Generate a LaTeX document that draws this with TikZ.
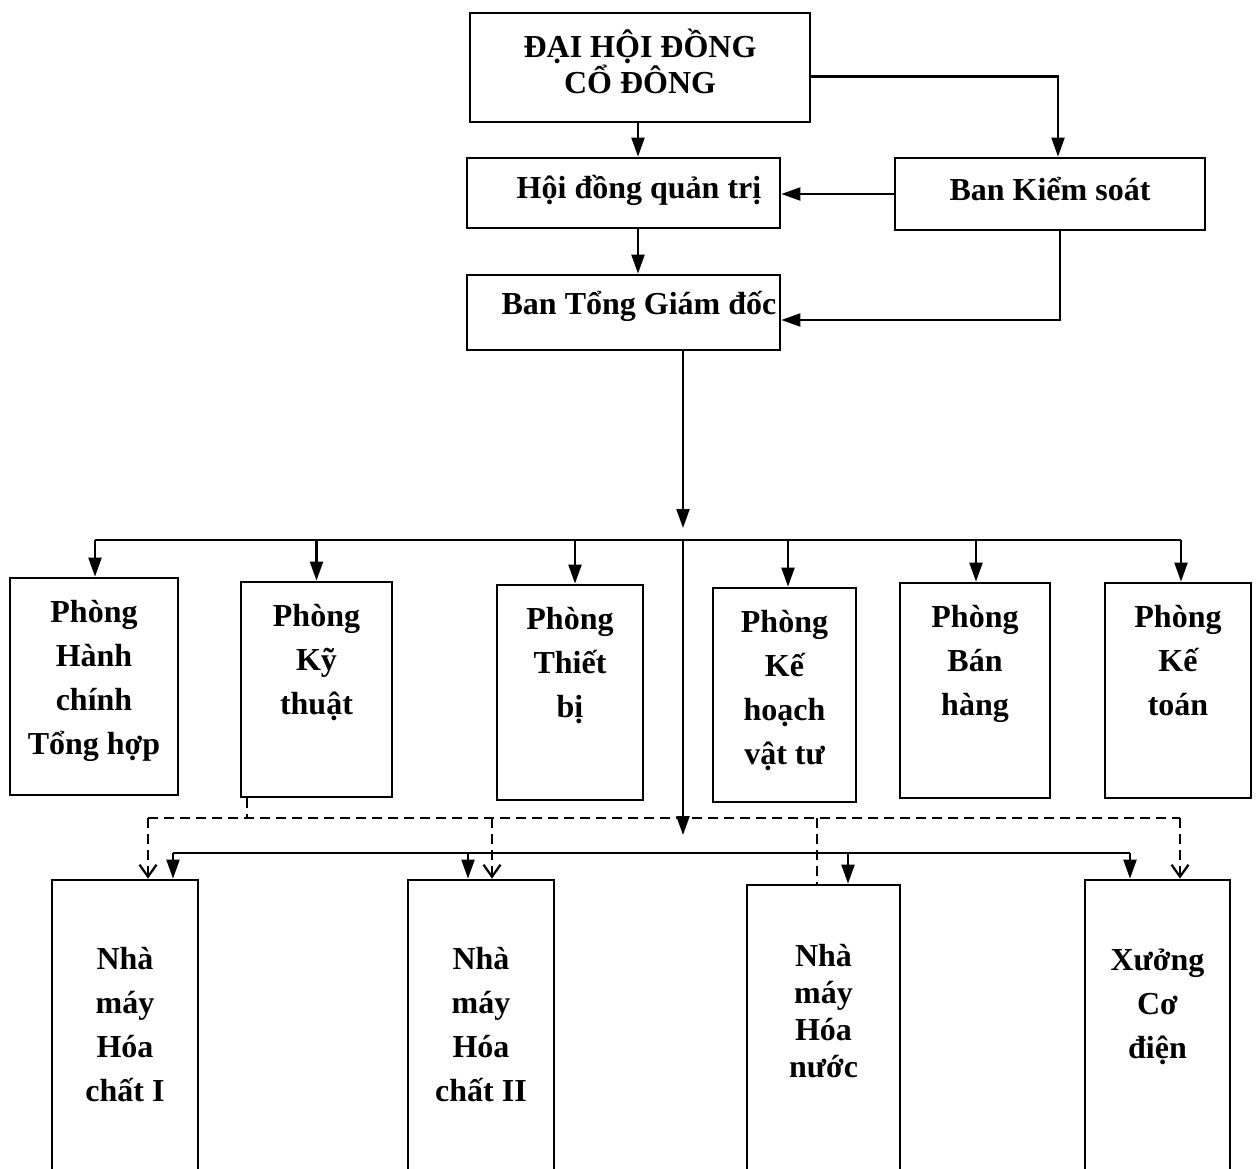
\documentclass[tikz,border=0pt]{standalone}
\usepackage{fontspec}
\setmainfont{Liberation Serif}
\usetikzlibrary{arrows.meta,calc}
\begin{document}
\begin{tikzpicture}[x=1pt,y=-1pt,
  box/.style={draw,line width=2.8pt,inner sep=0pt},
  big/.style={font=\fontsize{32}{36}\selectfont\bfseries,align=center,inner sep=0pt},
  txt/.style={font=\fontsize{32}{44}\selectfont\bfseries,align=center,inner sep=0pt,anchor=north},
  con/.style={line width=2.2pt},
  arr/.style={con,-{Triangle[length=19pt,width=13pt]}},
  dsh/.style={line width=2.2pt,dash pattern=on 10pt off 6pt},
  darr/.style={dsh,-{Straight Barb[length=12pt,width=17pt]}}]
\useasboundingbox (0,0) rectangle (1258,1168);

% top boxes
\node[box,minimum width=340pt,minimum height=109pt] (dh) at (640,67.5) {};
\node[box,minimum width=313pt,minimum height=70pt] (hd) at (623.5,193) {};
\node[box,minimum width=310pt,minimum height=72pt] (bks) at (1050,194) {};
\node[box,minimum width=313pt,minimum height=75pt] (bt) at (623.5,312.5) {};
\node[big] (dht) at (640,61) {ĐẠI HỘI ĐỒNG\\CỔ ĐÔNG};
\node[big] (hdt) at (639,190) {Hội đồng quản trị};
\node[big] (bkst) at (1050,189) {Ban Kiểm soát};
\node[big] (btt) at (639,306) {Ban Tổng Giám đốc};

% department boxes
\node[box,minimum width=168pt,minimum height=217pt] (p1) at (94,686.5) {};
\node[box,minimum width=151pt,minimum height=215pt] (p2) at (316.5,689.5) {};
\node[box,minimum width=146pt,minimum height=215pt] (p3) at (570,692.5) {};
\node[box,minimum width=143pt,minimum height=214pt] (p4) at (784.5,695) {};
\node[box,minimum width=150pt,minimum height=215pt] (p5) at (975,690.5) {};
\node[box,minimum width=146pt,minimum height=215pt] (p6) at (1178,690.5) {};
\node[txt] (p1t) at ([yshift=-23pt]p1.north) {Phòng\\Hành\\chính\\Tổng hợp};
\node[txt] (p2t) at ([yshift=-23pt]p2.north) {Phòng\\Kỹ\\thuật};
\node[txt] (p3t) at ([yshift=-23pt]p3.north) {Phòng\\Thiết\\bị};
\node[txt] (p4t) at ([yshift=-23pt]p4.north) {Phòng\\Kế\\hoạch\\vật tư};
\node[txt] (p5t) at ([yshift=-23pt]p5.north) {Phòng\\Bán\\hàng};
\node[txt] (p6t) at ([yshift=-23pt]p6.north) {Phòng\\Kế\\toán};

% factory boxes (run past the bottom edge)
\node[box,minimum width=146pt,minimum height=300pt] (n1) at (125,1030) {};
\node[box,minimum width=146pt,minimum height=300pt] (n2) at (481,1030) {};
\node[box,minimum width=153pt,minimum height=295pt] (n3) at (823.5,1032.5) {};
\node[box,minimum width=145pt,minimum height=300pt] (n4) at (1157.5,1030) {};
\node[txt] (n1t) at ([yshift=-68pt]n1.north) {Nhà\\máy\\Hóa\\chất I};
\node[txt] (n2t) at ([yshift=-68pt]n2.north) {Nhà\\máy\\Hóa\\chất II};
\node[txt,font=\fontsize{32}{37}\selectfont\bfseries] (n3t) at ([yshift=-60pt]n3.north) {Nhà\\máy\\Hóa\\nước};
\node[txt] (n4t) at ([yshift=-70pt]n4.north) {Xưởng\\Cơ\\điện};

% top connectors
\draw[arr] ([xshift=-2pt]dh.south) -- ([xshift=-2pt]dh.south |- hd.north);
\draw[arr] ([yshift=-9pt]dh.east) -| ([xshift=8pt]bks.north);
\draw[arr] (bks.west) -- (bks.west -| hd.east);
\draw[arr] ([xshift=14.5pt]hd.south) -- ([xshift=14.5pt]bt.north);
\draw[arr] ([xshift=10pt]bks.south) |- ([yshift=-7.5pt]bt.east);

% bus 1
\coordinate (b1) at (683,540);
\coordinate (b2) at (683,853);
\draw[arr] (bt.south -| b1) -- ([yshift=12pt]b1);
\draw[con] ([xshift=1pt]p1.north |- b1) -- ([xshift=3pt]p6.north |- b1);
\draw[arr] ([xshift=1pt]p1.north |- b1) -- ([xshift=1pt]p1.north);
\draw[arr] (p2.north |- b1) -- (p2.north);
\draw[arr] ([xshift=5pt]p3.north |- b1) -- ([xshift=5pt]p3.north);
\draw[arr] ([xshift=3.5pt]p4.north |- b1) -- ([xshift=3.5pt]p4.north);
\draw[arr] ([xshift=1pt]p5.north |- b1) -- ([xshift=1pt]p5.north);
\draw[arr] ([xshift=3pt]p6.north |- b1) -- ([xshift=3pt]p6.north);

% bus 2
\draw[arr] (b1) -- ([yshift=18pt]b2);
\draw[con] ([xshift=48pt]n1.north |- b2) -- ([xshift=-27.5pt]n4.north |- b2);
\draw[arr] ([xshift=48pt]n1.north |- b2) -- ([xshift=48pt]n1.north);
\draw[arr] ([xshift=-13pt]n2.north |- b2) -- ([xshift=-13pt]n2.north);
\draw[arr] ([xshift=24.5pt]n3.north |- b2) -- ([xshift=24.5pt]n3.north);
\draw[arr] ([xshift=-27.5pt]n4.north |- b2) -- ([xshift=-27.5pt]n4.north);

% dashed links from Phong Ky thuat
\coordinate (dL) at (148,818);
\coordinate (dR) at (1180,818);
\draw[dsh] ([xshift=-69.5pt]p2.south) -- ([xshift=-69.5pt]p2.south |- dL);
\draw[dsh] (dL) -- (dR);
\draw[darr] (dL) -- (dL |- n1.north);
\draw[darr] ([xshift=11pt]n2.north |- dL) -- ([xshift=11pt]n2.north);
\draw[dsh] ([xshift=-6.5pt]n3.north |- dL) -- ([xshift=-6.5pt]n3.north);
\draw[darr] (dR) -- (dR |- n4.north);
\end{tikzpicture}
\end{document}
